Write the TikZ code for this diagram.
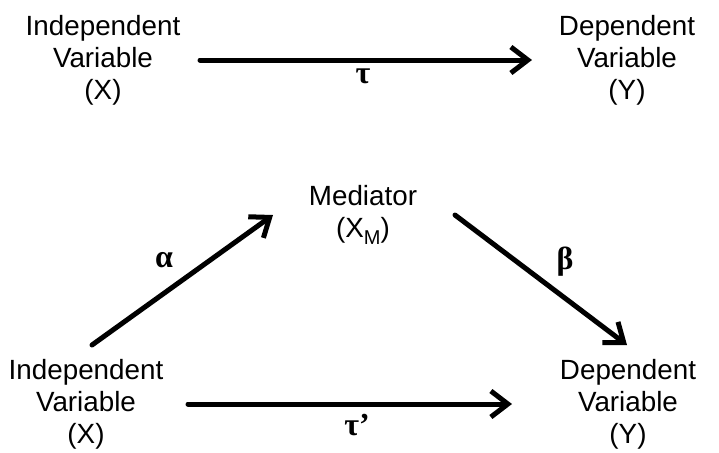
\documentclass[tikz,border=0pt]{standalone}
\usepackage{fontspec}
\setmainfont{Liberation Sans}
\newfontfamily\greekfont{Liberation Serif}
\usetikzlibrary{arrows.meta}
\newcommand{\medsub}[1]{\raisebox{-0.45ex}{\fontsize{10}{10}\selectfont #1}}
\begin{document}
\begin{tikzpicture}[x=0.5pt,y=-0.5pt,line cap=round,line join=round,
  var/.style={align=center,inner sep=0pt,font=\fontsize{13.9}{16}\selectfont},
  coef/.style={inner sep=0pt,font=\greekfont\bfseries\fontsize{16}{18}\selectfont},
  path/.style={line width=2.5pt,-{Straight Barb[length=8.5pt,width=13pt,line width=2.5pt]}}]
  \useasboundingbox (0,0) rectangle (719,452);
  % total effect
  \node[var] (x1) at (103,60) {Independent\\Variable\\(X)};
  \node[var] (y1) at (627,60) {Dependent\\Variable\\(Y)};
  \coordinate (x1e) at (200,60);
  \coordinate (y1e) at (532,60);
  \draw[path] (x1e) -- (y1e);
  \node[coef] (tau) at (363,76) {τ};
  % mediated effect
  \node[var] (m) at (363,215) {Mediator\\(X\medsub{M})};
  \node[var] (x2) at (86,404) {Independent\\Variable\\(X)};
  \node[var] (y2) at (628,404) {Dependent\\Variable\\(Y)};
  \coordinate (x2a) at (92,345);
  \coordinate (ma) at (273,215);
  \coordinate (mb) at (455,215);
  \coordinate (y2b) at (627,345);
  \coordinate (x2c) at (188,404);
  \coordinate (y2c) at (512,404);
  \draw[path] (x2a) -- (ma);
  \draw[path] (mb) -- (y2b);
  \draw[path] (x2c) -- (y2c);
  \node[coef] (alpha) at (164,260) {α};
  \node[coef] (beta) at (565,262) {β};
  \node[coef] (taup) at (357,425) {τ’};
\end{tikzpicture}
\end{document}
